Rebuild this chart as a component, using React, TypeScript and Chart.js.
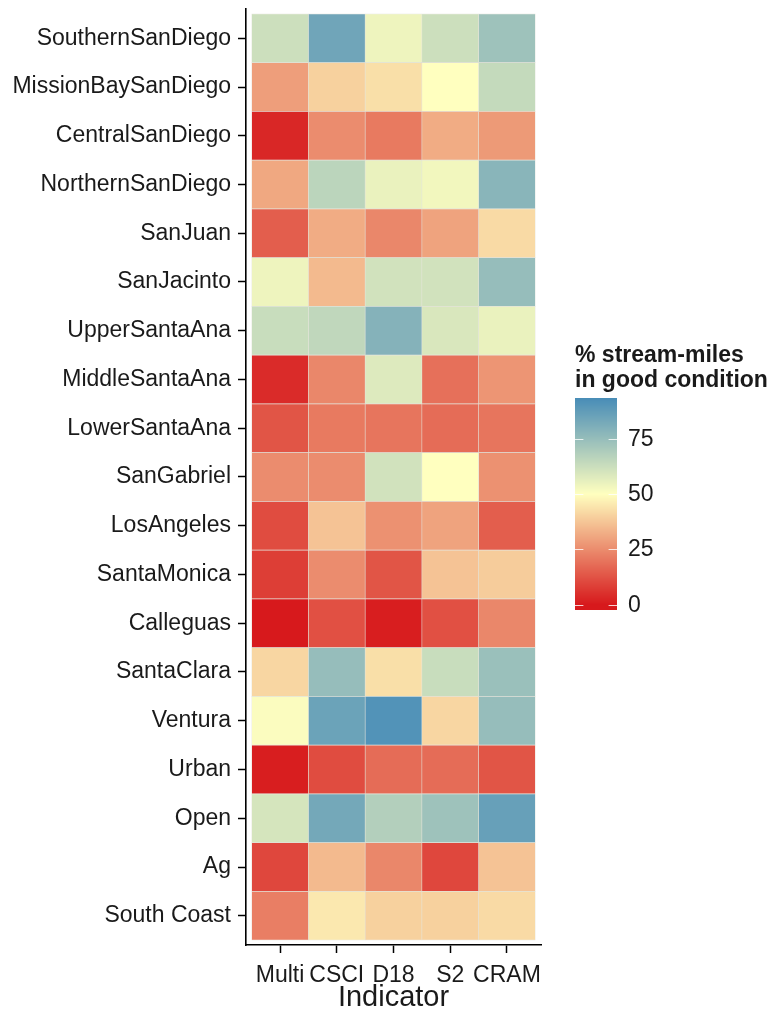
import React, { useEffect, useRef } from "react";
import { Chart, registerables } from "chart.js";

Chart.register(...registerables);

const regions = [
  "SouthernSanDiego",
  "MissionBaySanDiego",
  "CentralSanDiego",
  "NorthernSanDiego",
  "SanJuan",
  "SanJacinto",
  "UpperSantaAna",
  "MiddleSantaAna",
  "LowerSantaAna",
  "SanGabriel",
  "LosAngeles",
  "SantaMonica",
  "Calleguas",
  "SantaClara",
  "Ventura",
  "Urban",
  "Open",
  "Ag",
  "South Coast",
];

const indicators = ["Multi", "CSCI", "D18", "S2", "CRAM"];

const multi = [62, 29, 3, 31, 15, 54, 63, 4, 13, 25, 11, 8, 0, 41, 51, 1, 60, 10, 22];
const csci = [84, 40, 25, 66, 32, 35, 65, 24, 21, 25, 37, 25, 12, 75, 85, 11, 83, 35, 45];
const d18 = [54, 43, 21, 55, 24, 61, 79, 58, 20, 61, 26, 13, 1, 43, 91, 18, 68, 24, 40];
const s2 = [62, 50, 32, 53, 30, 61, 59, 19, 18, 50, 30, 37, 12, 63, 41, 18, 73, 10, 40];
const cram = [73, 64, 28, 78, 42, 75, 55, 27, 20, 26, 15, 39, 24, 74, 75, 13, 86, 37, 42];

const legendTicks = [0, 25, 50, 75];
const legendTitle = ["% stream-miles", "in good condition"];
const xTitle = "Indicator";

const seriesValues = [multi, csci, d18, s2, cram];

const LOW = "#d7191c";
const MID = "#ffffbf";
const HIGH = "#2c7bb6";
const MIDPOINT = 50;
const FONT = "'Liberation Sans', Arial, sans-serif";
const TEXT = "#1a1a1a";

function hexToRgb(h: string) {
  return [parseInt(h.slice(1, 3), 16), parseInt(h.slice(3, 5), 16), parseInt(h.slice(5, 7), 16)];
}
const rgbLow = hexToRgb(LOW);
const rgbMid = hexToRgb(MID);
const rgbHigh = hexToRgb(HIGH);

const allValues = seriesValues.flat();
const dataMin = Math.min(...allValues);
const dataMax = Math.max(...allValues);
const halfSpan = Math.max(Math.abs(dataMin - MIDPOINT), Math.abs(dataMax - MIDPOINT));

function colorFor(v: number) {
  let t = (v - MIDPOINT) / (2 * halfSpan) + 0.5;
  t = Math.max(0, Math.min(1, t));
  let a: number[], b: number[], u: number;
  if (t <= 0.5) {
    a = rgbLow; b = rgbMid; u = t / 0.5;
  } else {
    a = rgbMid; b = rgbHigh; u = (t - 0.5) / 0.5;
  }
  const c = [0, 1, 2].map((k) => Math.round(a[k] + (b[k] - a[k]) * u));
  return `rgb(${c[0]},${c[1]},${c[2]})`;
}

const colorbarPlugin = {
  id: "colorbarLegend",
  afterDraw(chart: any) {
    const { ctx, chartArea } = chart;
    const cy = (chartArea.top + chartArea.bottom) / 2;
    const x0 = chartArea.right + 34;
    const barW = 42;
    const barTop = cy - 79;
    const barH = 212;
    const barBottom = barTop + barH;
    const nbin = 20;
    ctx.save();
    ctx.fillStyle = TEXT;
    ctx.font = `bold 23px ${FONT}`;
    ctx.textAlign = "left";
    ctx.textBaseline = "alphabetic";
    ctx.fillText(legendTitle[0], x0, cy - 115);
    ctx.fillText(legendTitle[1], x0, cy - 90);
    const valAt = (y: number) => {
      const frac = (barBottom - y) / barH;
      return dataMin + ((frac * nbin - 0.5) / (nbin - 1)) * (dataMax - dataMin);
    };
    for (let y = Math.floor(barTop); y < barBottom; y++) {
      ctx.fillStyle = colorFor(valAt(y + 0.5));
      ctx.fillRect(x0, y, barW, 1);
    }
    const posOf = (v: number) =>
      barBottom - (barH * (0.5 + ((nbin - 1) * (v - dataMin)) / (dataMax - dataMin))) / nbin;
    ctx.strokeStyle = "rgba(255,255,255,0.8)";
    ctx.lineWidth = 1;
    ctx.font = `23px ${FONT}`;
    ctx.textBaseline = "middle";
    legendTicks.forEach((t) => {
      const y = Math.round(posOf(t)) + 0.5;
      ctx.beginPath();
      ctx.moveTo(x0, y);
      ctx.lineTo(x0 + barW / 5, y);
      ctx.moveTo(x0 + barW, y);
      ctx.lineTo(x0 + barW - barW / 5, y);
      ctx.stroke();
      ctx.fillStyle = TEXT;
      ctx.fillText(String(t), x0 + barW + 11, y);
    });
    ctx.restore();
  },
};

export default function App() {
  const ref = useRef<HTMLCanvasElement | null>(null);

  useEffect(() => {
    if (!ref.current) return;
    const datasets = indicators.map((name, j) => ({
      label: name,
      data: regions.map((_, i) => ({ x: 1, y: i })),
      backgroundColor: seriesValues[j].map(colorFor),
      borderColor: "rgba(215,215,200,0.55)",
      borderWidth: 0.6,
      borderSkipped: false,
      barPercentage: 1,
      categoryPercentage: 1,
    }));

    const chart = new Chart(ref.current, {
      type: "bar",
      data: { datasets: datasets as any },
      options: {
        indexAxis: "y",
        animation: false,
        responsive: false,
        maintainAspectRatio: false,
        layout: { padding: { left: 0, right: 230, top: 9, bottom: 0 } },
        plugins: {
          legend: { display: false },
          tooltip: { enabled: false },
        },
        scales: {
          y: {
            type: "linear",
            reverse: true,
            stacked: true,
            offset: false,
            min: -0.6,
            max: regions.length - 1 + 0.6,
            afterBuildTicks: (s: any) => {
              s.ticks = regions.map((_, i) => ({ value: i }));
            },
            afterFit: (s: any) => {
              s.width = 246;
              s.paddingTop = 0;
              s.paddingBottom = 0;
            },
            ticks: {
              autoSkip: false,
              callback: (v: any) => regions[v as number],
              font: { family: FONT, size: 23 },
              color: TEXT,
              padding: 7,
            },
            grid: {
              display: true,
              offset: false,
              drawOnChartArea: false,
              drawTicks: true,
              tickLength: 8,
              tickColor: "#000",
              tickWidth: 1.5,
            },
            border: { display: true, color: "#000", width: 1.6 },
          },
          x: {
            type: "linear",
            stacked: true,
            offset: false,
            min: -0.1,
            max: indicators.length + 0.1,
            afterBuildTicks: (s: any) => {
              s.ticks = indicators.map((_, j) => ({ value: j + 0.5 }));
            },
            afterFit: (s: any) => {
              s.height = 72;
              s.paddingLeft = 0;
              s.paddingRight = 0;
            },
            ticks: {
              autoSkip: false,
              maxRotation: 0,
              callback: (v: any) => indicators[Math.round((v as number) - 0.5)],
              font: { family: FONT, size: 23 },
              color: TEXT,
              padding: 9,
            },
            grid: {
              display: true,
              offset: false,
              drawOnChartArea: false,
              drawTicks: true,
              tickLength: 8,
              tickColor: "#000",
              tickWidth: 1.5,
            },
            border: { display: true, color: "#000", width: 1.6 },
            title: {
              display: true,
              text: xTitle,
              font: { family: FONT, size: 29, lineHeight: 1.2 },
              color: TEXT,
              padding: { top: 0, bottom: 2 },
            },
          },
        },
      },
      plugins: [colorbarPlugin],
    });
    return () => chart.destroy();
  }, []);

  return (
    <div style={{ position: "absolute", left: 0, top: 0, width: 771, height: 1017, background: "#fff" }}>
      <canvas ref={ref} width={771} height={1017} style={{ display: "block" }} />
    </div>
  );
}
